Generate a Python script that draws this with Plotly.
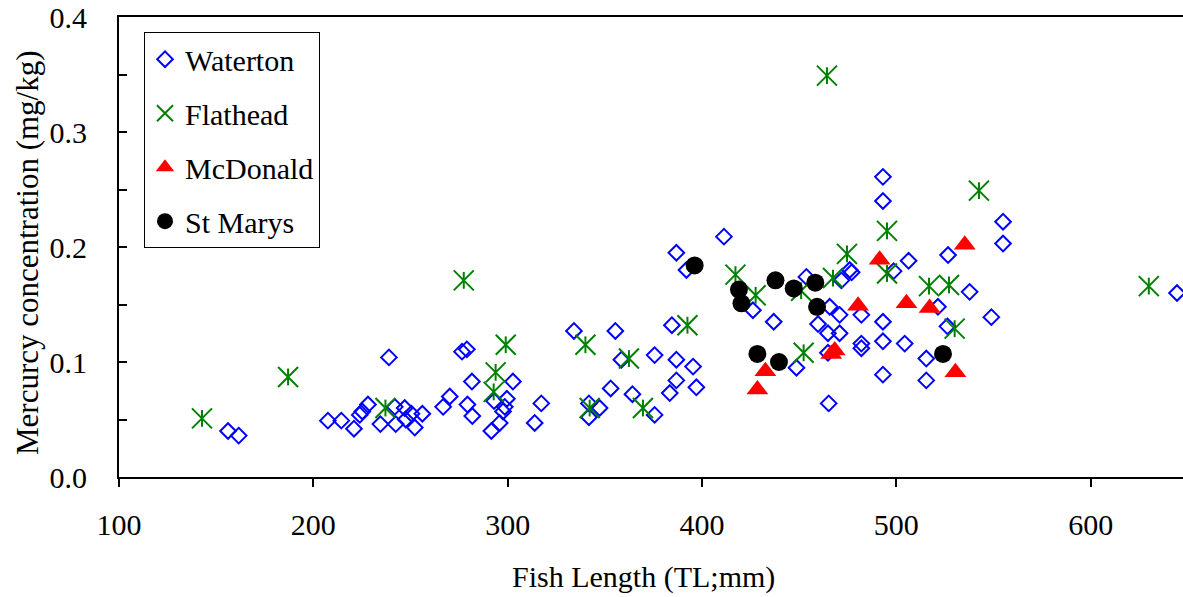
import plotly.graph_objects as go

# ---------------- data ----------------
waterton_len = [156.1, 161.6, 207.5, 214.4, 220.9, 223.9, 225.2, 228.1, 234.5, 238.9,
                241.9, 242.4, 247.0, 247.5, 250.5, 252.2, 256.1, 266.8, 270.2, 276.5,
                279.0, 279.3, 281.6, 281.8, 291.6, 293.0, 295.9, 297.6, 298.5, 299.6,
                302.7, 313.9, 317.3, 334.1, 341.8, 341.8, 347.3, 353.0, 355.4, 358.5,
                364.2, 375.6, 375.6, 383.4, 384.5, 386.8, 386.8, 386.8, 392.0, 395.4,
                397.1, 411.3, 426.2, 436.9, 448.6, 453.7, 459.7, 464.8, 464.8, 465.2,
                465.7, 470.8, 470.8, 471.7, 476.0, 477.0, 482.0, 482.0, 482.0, 493.1,
                493.1, 493.1, 493.1, 493.1, 498.6, 504.3, 506.3, 515.4, 515.4, 521.4,
                526.3, 526.6, 537.7, 548.9, 554.9, 554.9, 644.4]
waterton_hg = [0.040, 0.036, 0.049, 0.049, 0.042, 0.054, 0.057, 0.063, 0.046, 0.104,
               0.061, 0.046, 0.060, 0.050, 0.055, 0.043, 0.055, 0.061, 0.070, 0.109,
               0.111, 0.063, 0.083, 0.053, 0.040, 0.066, 0.047, 0.057, 0.061, 0.068,
               0.083, 0.047, 0.064, 0.127, 0.064, 0.052, 0.060, 0.077, 0.127, 0.102,
               0.072, 0.054, 0.106, 0.073, 0.132, 0.195, 0.102, 0.084, 0.180, 0.096,
               0.078, 0.209, 0.145, 0.135, 0.095, 0.174, 0.133, 0.125, 0.108, 0.064,
               0.148, 0.141, 0.125, 0.171, 0.180, 0.178, 0.141, 0.116, 0.112, 0.261,
               0.240, 0.135, 0.118, 0.089, 0.179, 0.116, 0.188, 0.103, 0.084, 0.148,
               0.131, 0.193, 0.161, 0.139, 0.222, 0.203, 0.160]

flathead_len = [142.7, 187.0, 237.1, 277.4, 292.8, 293.8, 299.0, 340.0, 342.2, 362.4,
                369.6, 392.5, 417.2, 427.6, 451.0, 452.3, 464.3, 467.4, 474.6, 495.2,
                495.2, 516.8, 527.1, 530.0, 542.5, 629.9]
flathead_hg = [0.051, 0.087, 0.060, 0.171, 0.074, 0.091, 0.115, 0.115, 0.060, 0.103,
               0.060, 0.132, 0.176, 0.158, 0.162, 0.108, 0.349, 0.173, 0.194, 0.214,
               0.177, 0.166, 0.167, 0.129, 0.249, 0.166]

mcdonald_len = [428.5, 432.6, 466.5, 468.3, 480.3, 491.4, 505.2, 517.1, 530.4, 535.2]
mcdonald_hg = [0.076, 0.092, 0.107, 0.110, 0.149, 0.189, 0.151, 0.147, 0.091, 0.202]

stmarys_len = [396.2, 419.0, 420.3, 428.5, 437.8, 439.6, 447.2, 458.3, 459.2, 524.0]
stmarys_hg = [0.184, 0.163, 0.151, 0.107, 0.171, 0.100, 0.164, 0.169, 0.148, 0.107]

x_ticks = [100, 200, 300, 400, 500, 600]
y_ticks = [0.0, 0.1, 0.2, 0.3, 0.4]

FONT = "Times New Roman, Liberation Serif, Times, serif"

fig = go.Figure()

fig.add_trace(go.Scatter(
    x=waterton_len, y=waterton_hg, mode="markers", name="Waterton",
    legendgroup="w",
    marker=dict(symbol="diamond-open", size=12, color="#0000FF",
                line=dict(color="#0000FF", width=2))))

fig.add_trace(go.Scatter(
    x=flathead_len, y=flathead_hg, mode="markers", name="Flathead",
    legendgroup="f",
    marker=dict(symbol="x-thin-open", size=20, color="#008000",
                line=dict(color="#008000", width=2))))
fig.add_trace(go.Scatter(
    x=flathead_len, y=flathead_hg, mode="markers", name="Flathead",
    legendgroup="f", showlegend=False,
    marker=dict(symbol="line-ns-open", size=12, color="#008000",
                line=dict(color="#008000", width=2))))

fig.add_trace(go.Scatter(
    x=mcdonald_len, y=mcdonald_hg, mode="markers", name="McDonald",
    legendgroup="m",
    marker=dict(symbol="triangle-up", size=19, color="#FF0000",
                line=dict(width=0))))

fig.add_trace(go.Scatter(
    x=stmarys_len, y=stmarys_hg, mode="markers", name="St Marys",
    legendgroup="s",
    marker=dict(symbol="circle", size=18, color="#000000",
                line=dict(width=0))))

fig.update_layout(
    width=1183, height=597,
    margin=dict(l=119, r=0, t=17, b=120, autoexpand=False),
    paper_bgcolor="white", plot_bgcolor="white",
    font=dict(family=FONT, size=30, color="black"),
    showlegend=True,
    legend=dict(
        x=0.0235, y=0.967, xanchor="left", yanchor="top",
        bgcolor="white", bordercolor="black", borderwidth=1,
        font=dict(family=FONT, size=30, color="black"),
        tracegroupgap=12, itemwidth=30,
    ),
    xaxis=dict(
        range=[100, 647.5], tickvals=x_ticks, automargin=False,
        ticks="outside", ticklen=8, tickwidth=1.5, tickcolor="black",
        showline=True, linecolor="black", linewidth=2, mirror=True,
        showgrid=False, zeroline=False,
        ticklabelstandoff=12,
        tickfont=dict(family=FONT, size=30, color="black"),
    ),
    yaxis=dict(
        range=[0, 0.4], tickvals=y_ticks, tickformat=".1f", automargin=False,
        ticks="inside", ticklen=8, tickwidth=1.5, tickcolor="black",
        minor=dict(dtick=0.05, ticks="inside", ticklen=8, tickwidth=1.5,
                   tickcolor="black", showgrid=False),
        showline=True, linecolor="black", linewidth=2,
        showgrid=False, zeroline=False,
        ticklabelstandoff=24,
        tickfont=dict(family=FONT, size=30, color="black"),
    ),
    annotations=[
        dict(text="Fish Length (TL;mm)", xref="paper", yref="paper",
             x=0.493, y=-0.218, xanchor="center", yanchor="middle",
             showarrow=False, font=dict(family=FONT, size=30, color="black")),
        dict(text="Mercurcy concentration (mg/kg)", xref="paper", yref="paper",
             x=-0.0855, y=0.487, xanchor="center", yanchor="middle",
             textangle=-90, showarrow=False,
             font=dict(family=FONT, size=31, color="black")),
    ],
)

fig.write_html("out.html",
               config={"displayModeBar": False},
               post_script="document.body.style.margin='0px';"
                           "document.body.style.overflow='hidden';")
